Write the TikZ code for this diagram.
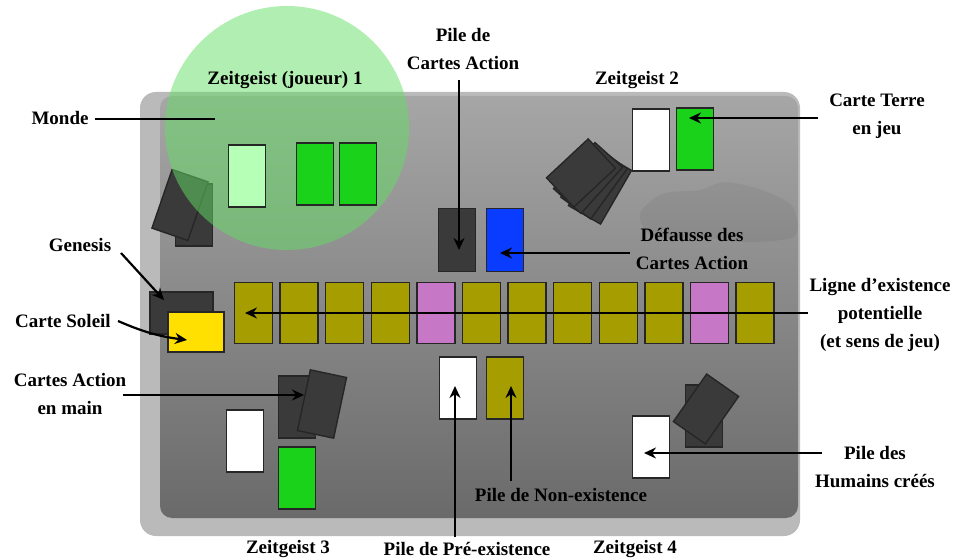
\documentclass[tikz,border=0pt]{standalone}
\usepackage{fontspec}
\setmainfont{Liberation Serif}
\usetikzlibrary{arrows.meta}
\definecolor{olivec}{RGB}{166,158,0}
\definecolor{pinkc}{RGB}{198,120,198}
\definecolor{greenc}{RGB}{26,210,26}
\definecolor{lgreenc}{RGB}{182,255,182}
\definecolor{darkc}{RGB}{58,58,58}
\definecolor{bluec}{RGB}{10,60,255}
\definecolor{yellowc}{RGB}{255,224,0}
\definecolor{rimc}{RGB}{186,186,186}
\definecolor{boardtop}{RGB}{166,166,166}
\definecolor{boardbot}{RGB}{106,106,106}
\definecolor{circc}{RGB}{100,222,100}
\begin{document}
\begin{tikzpicture}[x=1pt,y=-1pt,
  card/.style={draw=black!85, line width=1.4pt, minimum width=37pt, minimum height=62pt, inner sep=0pt, outer sep=0pt},
  lcard/.style={card, minimum width=38pt, minimum height=61pt},
  lbl/.style={font=\fontsize{19}{28}\selectfont\bfseries, align=center, inner sep=0pt},
  arr/.style={line width=2.2pt, -{Stealth[length=12pt,width=11pt]}},
  plain/.style={line width=2.2pt},
]
\useasboundingbox (0,0) rectangle (954,559);
% board
\fill[rimc, rounded corners=16] (140,92) rectangle (800,536);
\shade[top color=boardtop, bottom color=boardbot, rounded corners=12] (160,96) rectangle (798,518);
% smudge
\fill[black, opacity=0.05] plot[smooth cycle] coordinates {(640,214) (662,194) (700,190) (725,182) (762,190) (792,206) (795,236) (750,242) (700,238) (652,236)};
% hand of player 1 (below the green circle)
\node[card, fill=darkc] (z1h1) at (194,215) {};
\node[card, fill=darkc, minimum width=38pt, rotate=-19] (z1h2) at (180,205) {};
% green circle
\fill[circc, opacity=0.5] (287,128) circle (122);
% player 1 cards
\node[card, fill=lgreenc] (z1l) at (247,176) {};
\node[card, fill=greenc] (z1g1) at (315,174) {};
\node[card, fill=greenc] (z1g2) at (358,174) {};
% player 2
\node[card, fill=darkc, rotate=-30] (z2h4) at (600,188) {};
\node[card, fill=darkc, rotate=-36] (z2h3) at (594,183) {};
\node[card, fill=darkc, rotate=-42] (z2h2) at (588,178) {};
\node[card, fill=darkc, rotate=-47, minimum width=40pt, minimum height=57pt] (z2h1) at (581,173) {};
\node[card, fill=white] (z2w) at (651,140) {};
\node[card, fill=greenc] (z2g) at (695,139) {};
% action piles
\node[card, fill=darkc, minimum height=63pt] (pa) at (457,240) {};
\node[card, fill=bluec, minimum height=63pt] (def) at (505,240) {};
% genesis and soleil
\node[card, fill=darkc, minimum width=63pt, minimum height=42pt] (gen) at (181.5,313) {};
\node[card, fill=yellowc, minimum width=56pt, minimum height=40pt] (sol) at (196,332) {};
% line of potential existence
\foreach \i/\c in {0/olivec,1/olivec,2/olivec,3/olivec,4/pinkc,5/olivec,6/olivec,7/olivec,8/olivec,9/olivec,10/pinkc,11/olivec}{
  \node[lcard, fill=\c] (r\i) at ({253.5+45.6*\i},313) {};
}
% pre / non existence
\node[card, fill=white] (pre) at (458,388) {};
\node[card, fill=olivec] (non) at (505,388) {};
% player 3
\node[card, fill=darkc] (z3h1) at (297,407) {};
\node[card, fill=darkc, rotate=-12] (z3h2) at (322,404) {};
\node[card, fill=white] (z3w) at (245,441) {};
\node[card, fill=greenc] (z3g) at (297,478) {};
% player 4
\node[card, fill=darkc] (z4h1) at (704,416) {};
\node[card, fill=darkc, minimum width=39pt, minimum height=58pt, rotate=-35] (z4h2) at (706,409) {};
\node[card, fill=white] (z4w) at (651,447) {};
% labels
\node[lbl] (monde) at (60,118) {Monde};
\node[lbl] (z1lab) at (285,80) {Zeitgeist (joueur) 1};
\node[lbl] (palab) at (463,49) {Pile de\\Cartes Action};
\node[lbl] (z2lab) at (637,80) {Zeitgeist 2};
\node[lbl] (terre) at (877,116) {Carte Terre\\en jeu};
\node[lbl] (genlab) at (80,245) {Genesis};
\node[lbl] (deflab) at (692,249) {Défausse des\\Cartes Action};
\node[lbl] (ligne) at (880,315) {Ligne d’existence\\potentielle\\(et sens de jeu)};
\node[lbl] (sollab) at (63,321) {Carte Soleil};
\node[lbl] (mainlab) at (70,394) {Cartes Action\\en main};
\node[lbl] (hum) at (875,467) {Pile des\\Humains créés};
\node[lbl] (nonlab) at (561,495) {Pile de Non-existence};
\node[lbl] (z3lab) at (288,549) {Zeitgeist 3};
\node[lbl] (prelab) at (467,549) {Pile de Pré-existence};
\node[lbl] (z4lab) at (635,549) {Zeitgeist 4};
% connector end points
\coordinate (mondeA) at (95,119);
\coordinate (mondeB) at (215,119);
\coordinate (paA) at (459,80);
\coordinate (paT) at (459,250);
\coordinate (defA) at (630,253);
\coordinate (defT) at (500,253);
\coordinate (ligA) at (808,313);
\coordinate (ligT) at (245,313);
\coordinate (genA) at (121,253);
\coordinate (genT) at (164,300);
\coordinate (solA) at (118,321);
\coordinate (solT) at (187,340);
\coordinate (mainA) at (123,395);
\coordinate (mainT) at (304,395);
\coordinate (terA) at (818,118);
\coordinate (terT) at (689,118);
\coordinate (humA) at (822,453);
\coordinate (humT) at (644,453);
\coordinate (preA) at (455,537);
\coordinate (preT) at (455,386);
\coordinate (nonA) at (511,481);
\coordinate (nonT) at (511,386);
% connectors
\draw[plain] (mondeA) -- (mondeB);
\draw[arr] (paA) -- (paT);
\draw[arr] (defA) -- (defT);
\draw[arr] (ligA) -- (ligT);
\draw[arr] (genA) -- (genT);
\draw[arr] (solA) to[bend right=8] (solT);
\draw[arr] (mainA) -- (mainT);
\draw[arr] (terA) -- (terT);
\draw[arr] (humA) -- (humT);
\draw[arr] (preA) -- (preT);
\draw[arr] (nonA) -- (nonT);
\end{tikzpicture}
\end{document}
